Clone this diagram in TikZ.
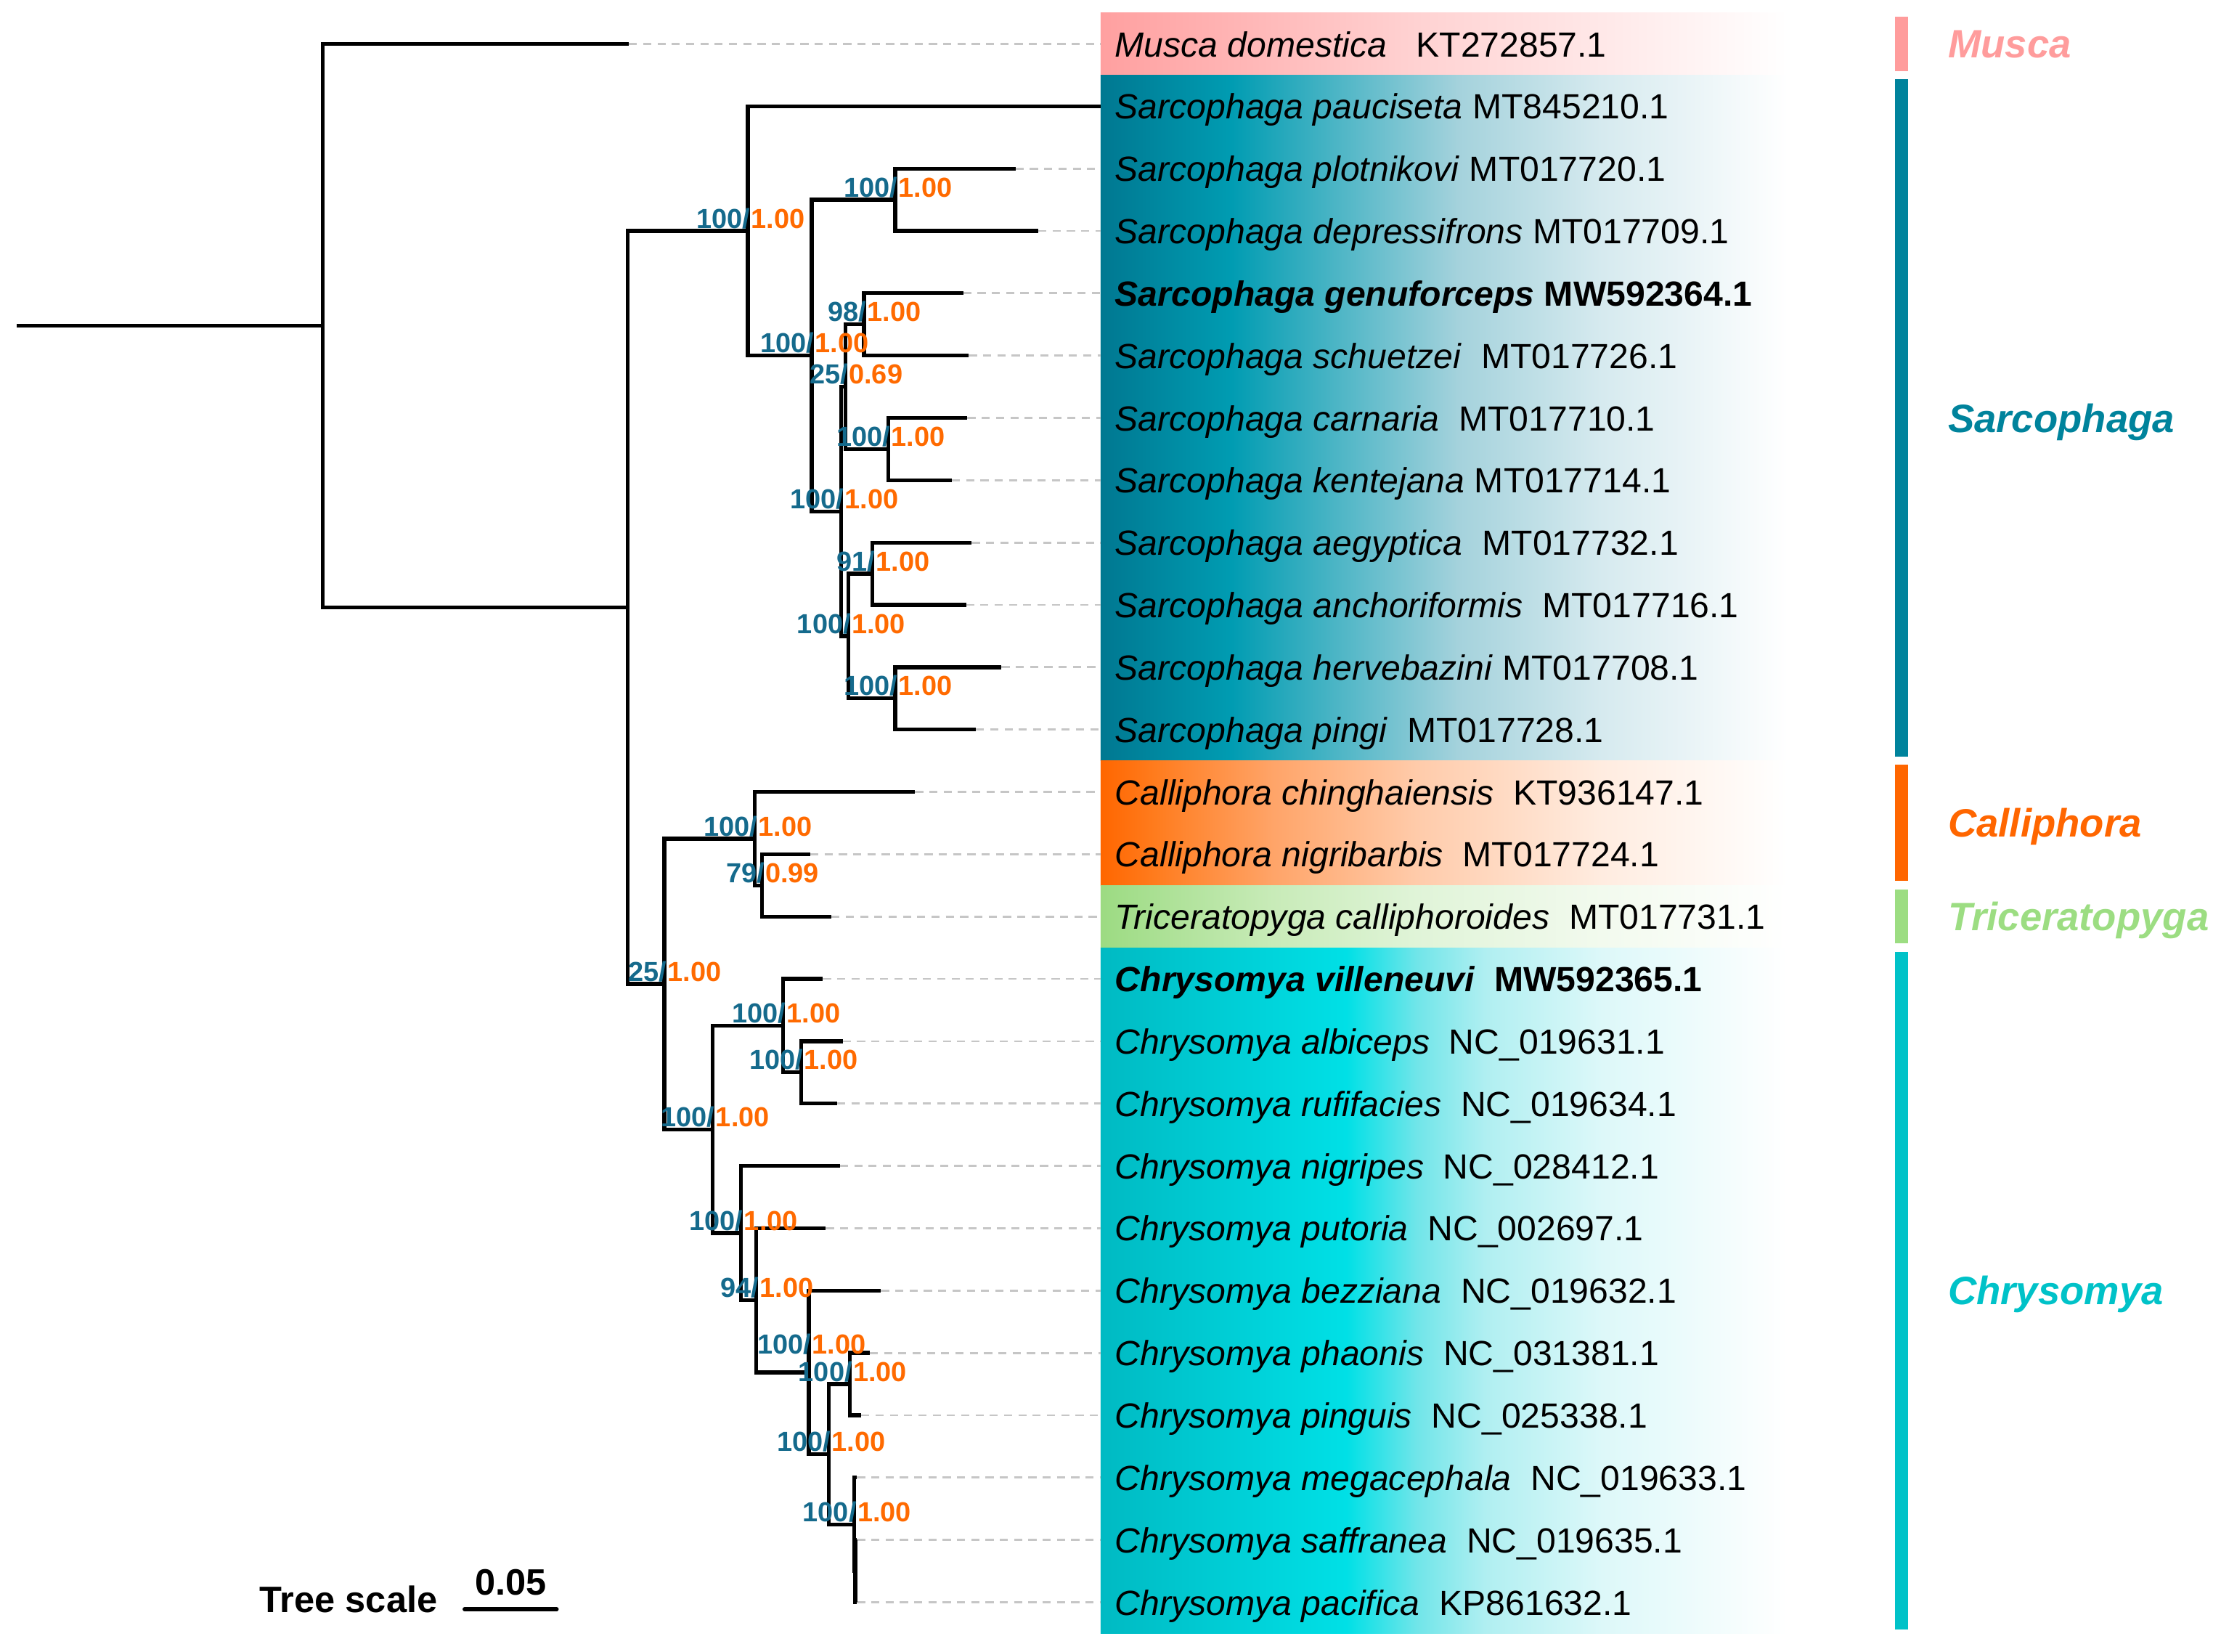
\documentclass[tikz,border=0pt]{standalone}
\usepackage{fontspec}
\setmainfont{Liberation Sans}
\usetikzlibrary{calc}
\definecolor{mlblue}{HTML}{156A8C}
\definecolor{biorange}{HTML}{FF6A00}
\definecolor{muscaC}{HTML}{FF9C9C}
\definecolor{sarcoC}{HTML}{00839C}
\definecolor{calliC}{HTML}{FF6600}
\definecolor{tricC}{HTML}{9CDD82}
\definecolor{chryC}{HTML}{00C2C8}
\definecolor{mu1}{HTML}{FFA0A0}\definecolor{mu2}{HTML}{FFB4B4}\definecolor{mu3}{HTML}{FFD2D2}\definecolor{mu4}{HTML}{FFE8E8}
\definecolor{sa1}{HTML}{007891}\definecolor{sa2}{HTML}{009CB2}\definecolor{sa3}{HTML}{A4D2DC}\definecolor{sa4}{HTML}{D6EAEF}
\definecolor{ca1}{HTML}{FF6600}\definecolor{ca2}{HTML}{FF7C1E}\definecolor{ca3}{HTML}{FFA468}\definecolor{ca4}{HTML}{FFCBAA}\definecolor{ca5}{HTML}{FFECE0}
\definecolor{tr1}{HTML}{9CDB82}\definecolor{tr2}{HTML}{C8EBB8}\definecolor{tr3}{HTML}{E0F4D8}\definecolor{tr4}{HTML}{F2FAEE}
\definecolor{ch1}{HTML}{00BAC3}\definecolor{ch2}{HTML}{00E0E6}\definecolor{ch3}{HTML}{70E5E9}\definecolor{ch4}{HTML}{B0EFF1}\definecolor{ch5}{HTML}{DDF8F9}
\pgfdeclarehorizontalshading{muscaband}{100bp}{color(0bp)=(mu1); color(25bp)=(mu1); color(34.5bp)=(mu2); color(48bp)=(mu3); color(61.5bp)=(mu4); color(75bp)=(white); color(100bp)=(white)}
\pgfdeclarehorizontalshading{sarcoband}{100bp}{color(0bp)=(sa1); color(25bp)=(sa1); color(34.5bp)=(sa2); color(51bp)=(sa3); color(61.5bp)=(sa4); color(75bp)=(white); color(100bp)=(white)}
\pgfdeclarehorizontalshading{calliband}{100bp}{color(0bp)=(ca1); color(25bp)=(ca1); color(29bp)=(ca2); color(37.5bp)=(ca3); color(48bp)=(ca4); color(61.5bp)=(ca5); color(75bp)=(white); color(100bp)=(white)}
\pgfdeclarehorizontalshading{tricband}{100bp}{color(0bp)=(tr1); color(25bp)=(tr1); color(37.5bp)=(tr2); color(48bp)=(tr3); color(61.5bp)=(tr4); color(75bp)=(white); color(100bp)=(white)}
\pgfdeclarehorizontalshading{chryband}{100bp}{color(0bp)=(ch1); color(25bp)=(ch1); color(42.9bp)=(ch2); color(48bp)=(ch3); color(53bp)=(ch4); color(61.5bp)=(ch5); color(75bp)=(white); color(100bp)=(white)}
\tikzset{
  branch/.style={line width=1.5pt},
  leader/.style={gray!45, line width=0.8pt, dash pattern=on 3.2pt off 2.4pt},
  taxon/.style={anchor=base west, inner xsep=5.5pt, inner ysep=0pt, font=\fontsize{13.7}{16}\selectfont},
  boldtaxon/.style={taxon, font=\bfseries\fontsize{13.7}{16}\selectfont},
  mlval/.style={anchor=base east, inner sep=0pt, text=mlblue, font=\bfseries\fontsize{10.8}{12}\selectfont},
  bival/.style={anchor=base west, inner sep=0pt, text=biorange, font=\bfseries\fontsize{10.8}{12}\selectfont},
  clade/.style={anchor=base west, inner sep=0pt, font=\bfseries\itshape\fontsize{15.5}{18}\selectfont},
  scalebar/.style={line width=1.6pt, line cap=round}
}
\begin{document}
\begin{tikzpicture}[x=0.01951cm,y=-0.01951cm]
\useasboundingbox (0,0) rectangle (1568,1166);
\shade[shading=muscaband] (777,9) rectangle (1262,53);
\shade[shading=sarcoband] (777,53) rectangle (1262,537);
\shade[shading=calliband] (777,537) rectangle (1262,625);
\shade[shading=tricband] (777,625) rectangle (1262,669);
\shade[shading=chryband] (777,669) rectangle (1262,1153);
\coordinate (base) at (12,229.9);
\coordinate (root) at (228,229.9);
\coordinate (A) at (443,428.8);
\coordinate (S0) at (528,163);
\coordinate (S1) at (573,251);
\coordinate (P) at (632,141);
\coordinate (S3) at (594,361);
\coordinate (Q) at (597,273);
\coordinate (G) at (610,229);
\coordinate (CK) at (627,317);
\coordinate (R) at (599,449);
\coordinate (AA) at (616,405);
\coordinate (HP) at (632,493);
\coordinate (B) at (469,694.6);
\coordinate (CT) at (533,592);
\coordinate (CN) at (538,625);
\coordinate (C0) at (503,797.2);
\coordinate (V) at (553,724);
\coordinate (AR) at (565.5,757);
\coordinate (C1) at (523,870.4);
\coordinate (C2) at (534,917.9);
\coordinate (C3) at (571,968.8);
\coordinate (C4) at (585,1026.5);
\coordinate (PP) at (600,977);
\coordinate (C5) at (603,1076);
\coordinate (SP) at (603.8,1109);
\coordinate (mdom) at (444,31);
\coordinate (spau) at (777,75);
\coordinate (splo) at (717,119);
\coordinate (sdep) at (733,163);
\coordinate (sgen) at (680,207);
\coordinate (ssch) at (684,251);
\coordinate (scar) at (683,295);
\coordinate (sken) at (672,339);
\coordinate (saeg) at (686,383);
\coordinate (sanc) at (682,427);
\coordinate (sher) at (707,471);
\coordinate (spin) at (689,515);
\coordinate (cchi) at (646,559);
\coordinate (cnig) at (572,603);
\coordinate (tcal) at (587,647);
\coordinate (cvil) at (581,691);
\coordinate (calb) at (595,735);
\coordinate (cruf) at (591,779);
\coordinate (cnigr) at (593,823);
\coordinate (cput) at (583,867);
\coordinate (cbez) at (622,911);
\coordinate (cpha) at (614,955);
\coordinate (cpig) at (608,999);
\coordinate (cmeg) at (605,1043);
\coordinate (csaf) at (605,1087);
\coordinate (cpac) at (605,1131);
\node[taxon] (l-mdom) at (777,40) {\textit{Musca domestica}~~~KT272857.1};
\node[taxon] (l-spau) at (777,84) {\textit{Sarcophaga pauciseta} MT845210.1};
\node[taxon] (l-splo) at (777,128) {\textit{Sarcophaga plotnikovi} MT017720.1};
\node[taxon] (l-sdep) at (777,172) {\textit{Sarcophaga depressifrons} MT017709.1};
\node[boldtaxon] (l-sgen) at (777,216) {\textit{Sarcophaga genuforceps} MW592364.1};
\node[taxon] (l-ssch) at (777,260) {\textit{Sarcophaga schuetzei}~~MT017726.1};
\node[taxon] (l-scar) at (777,304) {\textit{Sarcophaga carnaria}~~MT017710.1};
\node[taxon] (l-sken) at (777,348) {\textit{Sarcophaga kentejana} MT017714.1};
\node[taxon] (l-saeg) at (777,392) {\textit{Sarcophaga aegyptica}~~MT017732.1};
\node[taxon] (l-sanc) at (777,436) {\textit{Sarcophaga anchoriformis}~~MT017716.1};
\node[taxon] (l-sher) at (777,480) {\textit{Sarcophaga hervebazini} MT017708.1};
\node[taxon] (l-spin) at (777,524) {\textit{Sarcophaga pingi}~~MT017728.1};
\node[taxon] (l-cchi) at (777,568) {\textit{Calliphora chinghaiensis}~~KT936147.1};
\node[taxon] (l-cnig) at (777,612) {\textit{Calliphora nigribarbis}~~MT017724.1};
\node[taxon] (l-tcal) at (777,656) {\textit{Triceratopyga calliphoroides}~~MT017731.1};
\node[boldtaxon] (l-cvil) at (777,700) {\textit{Chrysomya villeneuvi}~~MW592365.1};
\node[taxon] (l-calb) at (777,744) {\textit{Chrysomya albiceps}~~NC\_019631.1};
\node[taxon] (l-cruf) at (777,788) {\textit{Chrysomya rufifacies}~~NC\_019634.1};
\node[taxon] (l-cnigr) at (777,832) {\textit{Chrysomya nigripes}~~NC\_028412.1};
\node[taxon] (l-cput) at (777,876) {\textit{Chrysomya putoria}~~NC\_002697.1};
\node[taxon] (l-cbez) at (777,920) {\textit{Chrysomya bezziana}~~NC\_019632.1};
\node[taxon] (l-cpha) at (777,964) {\textit{Chrysomya phaonis}~~NC\_031381.1};
\node[taxon] (l-cpig) at (777,1008) {\textit{Chrysomya pinguis}~~NC\_025338.1};
\node[taxon] (l-cmeg) at (777,1052) {\textit{Chrysomya megacephala}~~NC\_019633.1};
\node[taxon] (l-csaf) at (777,1096) {\textit{Chrysomya saffranea}~~NC\_019635.1};
\node[taxon] (l-cpac) at (777,1140) {\textit{Chrysomya pacifica}~~KP861632.1};
\foreach \t in {mdom,splo,sdep,sgen,ssch,scar,sken,saeg,sanc,sher,spin,cchi,cnig,tcal,cvil,calb,cruf,cnigr,cput,cbez,cpha,cpig,cmeg,csaf,cpac}
  \draw[leader] (\t) -- (\t -| l-\t.west);
\draw[branch] (base) -- (root);
\foreach \p/\c in {root/mdom,root/A,A/S0,A/B,S0/spau,S0/S1,S1/P,S1/S3,P/splo,P/sdep,S3/Q,S3/R,Q/G,Q/CK,G/sgen,G/ssch,CK/scar,CK/sken,R/AA,R/HP,AA/saeg,AA/sanc,HP/sher,HP/spin,B/CT,B/C0,CT/cchi,CT/CN,CN/cnig,CN/tcal,C0/V,C0/C1,V/cvil,V/AR,AR/calb,AR/cruf,C1/cnigr,C1/C2,C2/cput,C2/C3,C3/cbez,C3/C4,C4/PP,C4/C5,PP/cpha,PP/cpig,C5/cmeg,C5/SP,SP/csaf,SP/cpac}
  \draw[branch] (\p) |- (\c);
\foreach \n/\a/\b/\d in {S0/100/1.00/2,P/100/1.00/2,G/98/1.00/2,S1/100/1.00/2,Q/25/0.69/2,CK/100/1.00/2,S3/100/1.00/2,AA/91/1.00/2,R/100/1.00/2,HP/100/1.00/2,CT/100/1.00/2,CN/79/0.99/2,B/25/1.00/2,V/100/1.00/2,AR/100/1.00/2,C0/100/1.00/2,C1/100/1.00/2,C2/94/1.00/2,C3/100/1.00/13,PP/100/1.00/2,C4/100/1.00/2,C5/100/1.00/2}{
  \node[mlval] (\n-ml) at ($(\n)+(2,-\d)$) {\a/};
  \node[bival] (\n-bi) at ($(\n)+(2,-\d)$) {\b};
}
\fill[muscaC] (1338,12) rectangle (1347,50);
\fill[sarcoC] (1338,56) rectangle (1347,534);
\fill[calliC] (1338,540) rectangle (1347,622);
\fill[tricC] (1338,628) rectangle (1347,666);
\fill[chryC] (1338,672) rectangle (1347,1150);
\node[clade, text=muscaC] (k-musca) at (1375,41) {Musca};
\node[clade, text=sarcoC] (k-sarco) at (1375,305) {Sarcophaga};
\node[clade, text=calliC] (k-calli) at (1375,591) {Calliphora};
\node[clade, text=tricC] (k-tric) at (1375,657) {Triceratopyga};
\node[clade, text=chryC] (k-chry) at (1375,921) {Chrysomya};
\node[anchor=base west, inner sep=0pt, font=\bfseries\fontsize{14.4}{17}\selectfont] (tscale) at (183,1138) {Tree scale};
\coordinate (sbL) at (328,1136);
\coordinate (sbR) at (393,1136);
\draw[scalebar] (sbL) -- (sbR);
\node[anchor=base, inner sep=0pt, font=\bfseries\fontsize{14.4}{17}\selectfont] (sbval) at (360.5,1126) {0.05};
\end{tikzpicture}
\end{document}
